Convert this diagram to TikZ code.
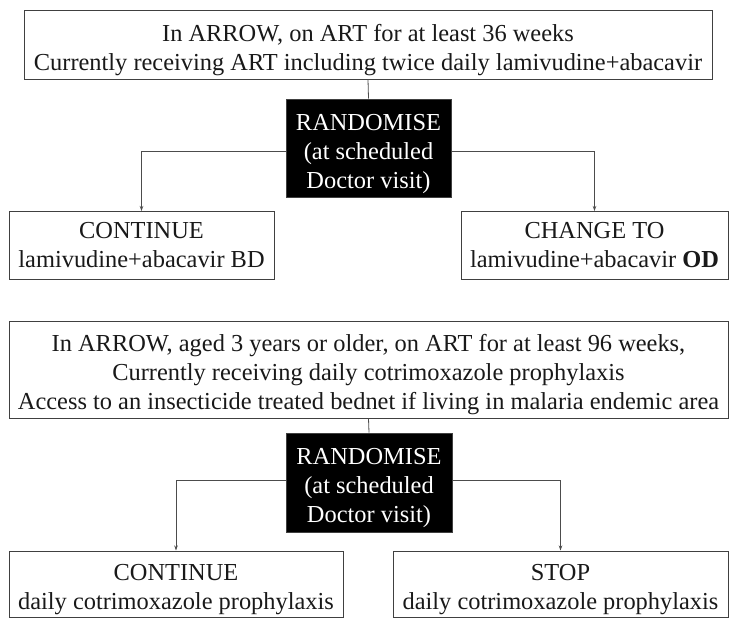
\documentclass[tikz,border=0pt]{standalone}
\usepackage{fontspec}
\setmainfont{Liberation Serif}
\usetikzlibrary{arrows.meta}
\newcommand{\dnstrut}{\rule{0pt}{28pt}}
\begin{document}
\begin{tikzpicture}[x=1pt,y=-1pt,
  every node/.style={font=\fontsize{24.4}{29}\selectfont, align=center, inner sep=0pt},
  wbox/.style={draw=black!75, line width=1pt, fill=white, text=black!90},
  bbox/.style={draw=black!75, line width=1pt, fill=black, text=white},
  conn/.style={draw=black!70, line width=0.8pt},
  arr/.style={conn, -{Stealth[length=5pt,width=3.5pt]}}]
\useasboundingbox (0,0) rectangle (730,619);
% first trial
\node[wbox, minimum width=688, minimum height=69] (t1) at (368,44.5)
  {\dnstrut In ARROW, on ART for at least 36 weeks\\Currently receiving ART including twice daily lamivudine+abacavir};
\node[bbox, minimum width=165, minimum height=98] (r1) at (368.5,148)
  {\dnstrut RANDOMISE\\(at scheduled\\Doctor visit)};
\node[wbox, minimum width=265, minimum height=68] (a1) at (141.5,245.5)
  {CONTINUE\\lamivudine+abacavir BD};
\node[wbox, minimum width=267, minimum height=68] (b1) at (594.5,245.5)
  {CHANGE TO\\lamivudine+abacavir \textbf{OD}};
\draw[conn] (t1.south) -- (r1.north);
\draw[arr] ([yshift=-3]r1.west) -| (a1.north);
\draw[arr] ([yshift=-3]r1.east) -| (b1.north);
% second trial
\node[wbox, minimum width=719, minimum height=97] (t2) at (368.5,369.5)
  {\dnstrut In ARROW, aged 3 years or older, on ART for at least 96 weeks,\\Currently receiving daily cotrimoxazole prophylaxis\\Access to an insecticide treated bednet if living in malaria endemic area};
\node[bbox, minimum width=166, minimum height=99] (r2) at (369,482.5)
  {\dnstrut RANDOMISE\\(at scheduled\\Doctor visit)};
\node[wbox, minimum width=334, minimum height=66] (a2) at (176,584)
  {\dnstrut CONTINUE\\daily cotrimoxazole prophylaxis};
\node[wbox, minimum width=335, minimum height=66] (b2) at (560.5,584)
  {\dnstrut STOP\\daily cotrimoxazole prophylaxis};
\draw[conn] (t2.south) -- (r2.north);
\draw[arr] ([yshift=2.5]r2.west) -| (a2.north);
\draw[arr] ([yshift=2.5]r2.east) -| (b2.north);
\end{tikzpicture}
\end{document}
